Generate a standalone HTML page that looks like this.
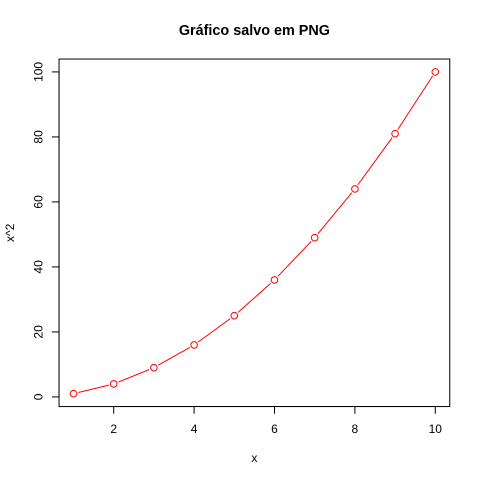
<!DOCTYPE html>
<html><head><meta charset="utf-8"><style>
body{margin:0;background:#fff}
svg{display:block;font-family:"Liberation Sans",sans-serif}
</style></head><body>
<svg id="chart" width="480" height="480" viewBox="0 0 480 480">
<rect width="480" height="480" fill="#fff"/>
<text x="254.4" y="35" text-anchor="middle" font-size="14.4" font-weight="bold">Gráfico salvo em PNG</text>
<rect x="59.04" y="59.04" width="390.72" height="347.52" fill="none" stroke="#000" stroke-width="1"/>
<g id="xaxis"></g>
<g id="yaxis"></g>
<text x="254.4" y="462" text-anchor="middle" font-size="12">x</text>
<text transform="translate(14,232.8) rotate(-90)" text-anchor="middle" font-size="12">x^2</text>
<g id="series"></g>
</svg>
<script>
const xValues=[1,2,3,4,5,6,7,8,9,10];
const yValues=[1,4,9,16,25,36,49,64,81,100];
const xTicks=[2,4,6,8,10];
const yTicks=[0,20,40,60,80,100];
const NS="http://www.w3.org/2000/svg";
const L=59.04,R=449.76,T=59.04,B=406.56;
const xmin=Math.min(...xValues),xmax=Math.max(...xValues),ymin=Math.min(...yValues),ymax=Math.max(...yValues);
const xlo=xmin-0.04*(xmax-xmin),xhi=xmax+0.04*(xmax-xmin);
const ylo=ymin-0.04*(ymax-ymin),yhi=ymax+0.04*(ymax-ymin);
const sx=v=>L+(v-xlo)/(xhi-xlo)*(R-L);
const sy=v=>B-(v-ylo)/(yhi-ylo)*(B-T);
function mk(tag,attrs,parent){const e=document.createElementNS(NS,tag);for(const k in attrs)e.setAttribute(k,attrs[k]);parent.appendChild(e);return e;}
const xa=document.getElementById('xaxis'),ya=document.getElementById('yaxis'),sg=document.getElementById('series');
mk('line',{x1:sx(xTicks[0]),x2:sx(xTicks[xTicks.length-1]),y1:B,y2:B,stroke:'#000'},xa);
xTicks.forEach(t=>{
 const l=mk('line',{x1:sx(t),x2:sx(t),y1:B,y2:B+7.2,stroke:'#000'},xa);
 
 
 const tx=mk('text',{x:sx(t),y:433,'text-anchor':'middle','font-size':12},xa);
 tx.textContent=t;
 
 
});
mk('line',{x1:L,x2:L,y1:sy(yTicks[0]),y2:sy(yTicks[yTicks.length-1]),stroke:'#000'},ya);
yTicks.forEach(t=>{
 const l=mk('line',{x1:L-7.2,x2:L,y1:sy(t),y2:sy(t),stroke:'#000'},ya);
 
 
 const tx=mk('text',{transform:`translate(42.5,${sy(t)}) rotate(-90)`,'text-anchor':'middle','font-size':12},ya);
 tx.textContent=t;
 
 
});
const r=3.3,gap=5;
for(let i=0;i<xValues.length-1;i++){
 const x1=sx(xValues[i]),y1=sy(yValues[i]),x2=sx(xValues[i+1]),y2=sy(yValues[i+1]);
 const d=Math.hypot(x2-x1,y2-y1);if(d<=2*gap)continue;
 const ux=(x2-x1)/d,uy=(y2-y1)/d;
 const l=mk('line',{x1:x1+ux*gap,y1:y1+uy*gap,x2:x2-ux*gap,y2:y2-uy*gap,stroke:'#ff0000','stroke-width':1},sg);
 
 
}
xValues.forEach((x,i)=>{
 const c=mk('circle',{cx:sx(x),cy:sy(yValues[i]),r:r,fill:'none',stroke:'#ff0000','stroke-width':1},sg);
 
 
});
</script>
</body></html>
